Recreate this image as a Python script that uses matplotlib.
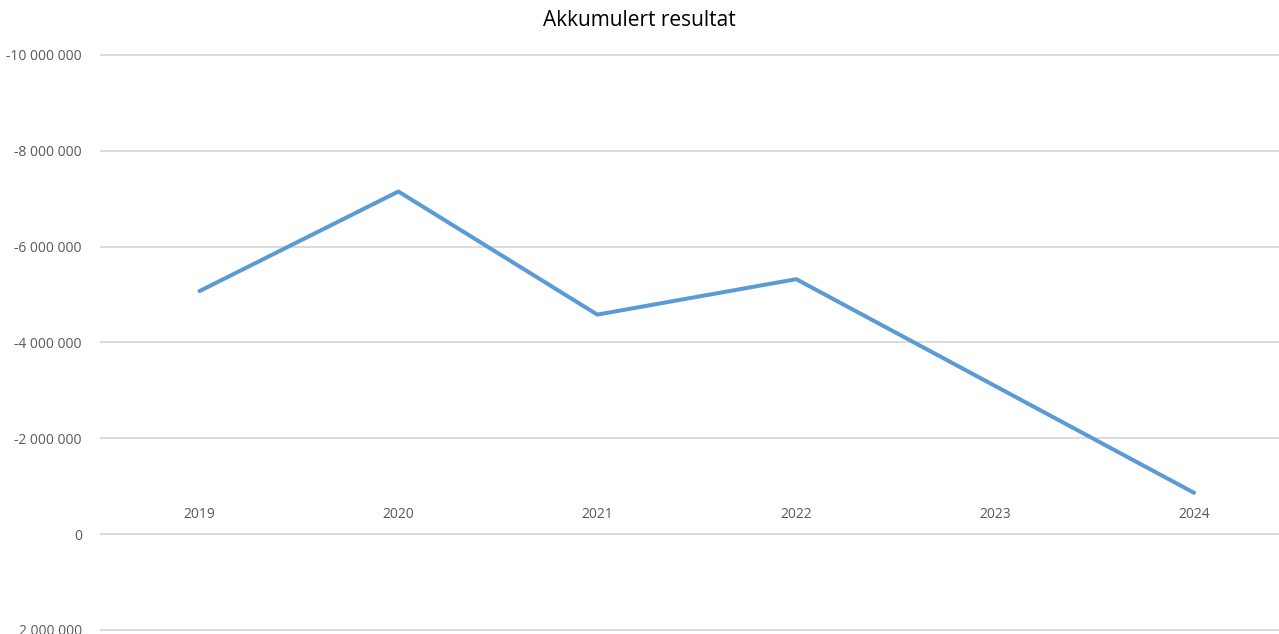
import matplotlib.pyplot as plt
from matplotlib.ticker import FuncFormatter

years = ["2019", "2020", "2021", "2022", "2023", "2024"]
values = [-5070000, -7150000, -4580000, -5320000, -3090000, -860000]
yticks = [-10000000, -8000000, -6000000, -4000000, -2000000, 0, 2000000]

plt.rcParams['font.family'] = ['Open Sans', 'DejaVu Sans']

fig = plt.figure(figsize=(12.79, 6.34), dpi=100)
ax = fig.add_axes([100/1279, 1-632.2/634, 1179/1279, (632.2-50.2)/634], frameon=False)

x = list(range(len(years)))
ax.plot(x, values, color="#5B9BD5", lw=2.9, solid_capstyle='round', zorder=3)

ax.set_xlim(-0.5, 5.427)
ax.set_ylim(2050000, -10100000)
ax.set_yticks(yticks)
ax.yaxis.set_major_formatter(FuncFormatter(lambda v, p: f"{int(v):,}".replace(",", " ")))
ax.grid(axis='y', color="#D9D9D9", lw=1.3, zorder=0)
ax.tick_params(axis='y', length=0, pad=13, labelsize=10, labelcolor="#595959")
ax.set_xticks([])

for i, yr in zip(x, years):
    ax.text(i, -400000, yr, ha='center', va='center', fontsize=10, color="#595959")

fig.text(0.5, 1-21/634, "Akkumulert resultat", ha='center', va='center', fontsize=15, color="#000000")

fig.savefig("out.png", dpi=100)
